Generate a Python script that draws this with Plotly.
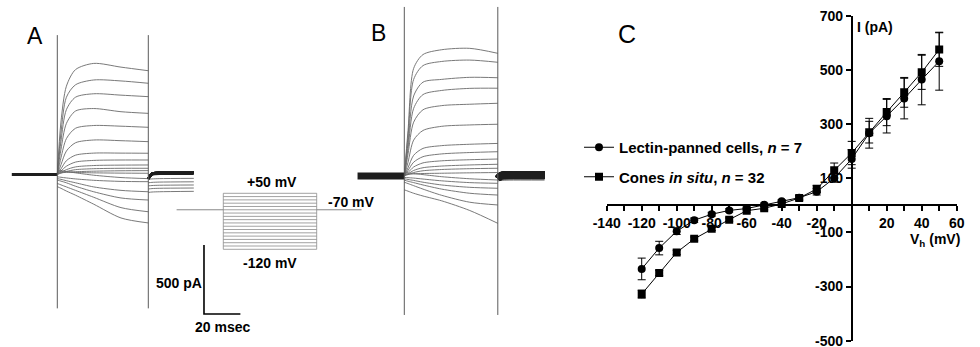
import plotly.graph_objects as go

W, H = 980, 347
FONT = "Liberation Sans, Arial, sans-serif"

# ---------------- Panel C : I-V relationship ----------------
VH_MV = [-120, -110, -100, -90, -80, -70, -60, -50, -40, -30, -20, -10, 0, 10, 20, 30, 40, 50]
LECTIN_I = [-235, -158, -96, -55, -33, -19, -12, 2, 15, 28, 50, 100, 171, 266, 329, 394, 464, 532]
LECTIN_SEM = [40, 25, 12, 8, 7, 6, 6, 6, 6, 8, 12, 15, 34, 55, 62, 75, 93, 107]
CONES_I = [-328, -250, -174, -124, -87, -53, -20, -11, 5, 27, 60, 129, 193, 270, 344, 417, 491, 575]
CONES_SEM = [15, 10, 8, 7, 6, 6, 6, 6, 6, 8, 14, 27, 43, 40, 50, 55, 63, 62]
LECTIN_NAME = "<b>Lectin-panned cells, <i>n</i> = 7</b>"
CONES_NAME = "<b>Cones <i>in situ</i>, <i>n</i> = 32</b>"

X_TICKS = [-140, -120, -100, -80, -60, -40, -20, 20, 40, 60]
X_TICK_TEXT = ["-140", "-120", "-100", "-80", "-60", "-40", "-20", "20", "40", "60"]
X_MINOR_DTICK = 10
Y_TICKS = [700, 500, 300, 100, -100, -300, -500]
Y_TICK_TEXT = ["700", "500", "300", "100", "-100", "-300", "-500"]
X_RANGE = [-140, 60]
Y_RANGE = [-500, 700]

# ---------------- Panels A and B : current traces (pA vs ms) ----------------
STEP_MV = [50, 40, 30, 20, 10, 0, -10, -20, -30, -40, -50, -60, -70, -80, -90, -100, -110, -120]
PRE_T_MS = [-25, 0]
PULSE_T_MS = [0, 2, 5, 10, 20, 35, 50]
TAIL_T_MS = [50, 52, 56, 75]
PULSE_EDGES_MS = [0, 50]

A_PULSE_PA = [
    [0, 380, 640, 760, 805, 778, 752],
    [0, 300, 560, 650, 685, 678, 661],
    [0, 240, 470, 560, 585, 575, 564],
    [0, 180, 370, 460, 478, 455, 443],
    [0, 120, 260, 335, 355, 350, 342],
    [0, 70, 170, 230, 250, 245, 238],
    [0, 40, 100, 140, 155, 155, 154],
    [0, 25, 60, 90, 102, 105, 105],
    [0, 15, 35, 55, 65, 68, 69],
    [0, 10, 22, 35, 42, 45, 45],
    [10, 12, 16, 20, 24, 27, 28],
    [20, 20, 18, 15, 12, 10, 9],
    [30, 28, 22, 12, -5, -22, -30],
    [-17, -20, -25, -32, -42, -50, -52],
    [-30, -35, -45, -60, -90, -115, -125],
    [-40, -48, -60, -85, -125, -170, -185],
    [-65, -75, -90, -115, -165, -240, -270],
    [-88, -100, -120, -150, -215, -315, -351],
]
A_TAIL_PA = [
    [-30, 5, 12, 12], [-30, 5, 12, 12], [-30, 5, 12, 12], [-30, 5, 12, 12],
    [-30, 5, 12, 12], [-30, 5, 12, 12], [-30, 5, 12, 12], [-30, 5, 12, 12],
    [-30, 5, 12, 12], [-30, 5, 12, 12], [-30, 5, 12, 12], [-30, 5, 12, 12],
    [-10, 0, 5, 5],
    [-35, -32, -30, -28],
    [-60, -57, -55, -53],
    [-82, -80, -78, -76],
    [-105, -102, -100, -98],
    [-130, -127, -125, -122],
]
A_TRANSIENT_PA = [1010, -970]

B_PULSE_PA = [
    [0, 330, 780, 880, 915, 925, 889],
    [0, 290, 700, 800, 830, 840, 824],
    [0, 240, 580, 680, 700, 715, 712],
    [0, 200, 490, 590, 620, 635, 636],
    [0, 160, 390, 480, 510, 520, 527],
    [0, 100, 260, 330, 360, 370, 375],
    [0, 60, 150, 200, 220, 230, 236],
    [0, 40, 100, 140, 160, 170, 176],
    [0, 25, 65, 95, 110, 118, 123],
    [0, 15, 40, 60, 72, 80, 85],
    [5, 10, 25, 38, 47, 53, 56],
    [10, 12, 15, 18, 20, 23, 25],
    [25, 22, 18, 10, -5, -20, -29],
    [-10, -12, -15, -22, -35, -48, -53],
    [-20, -25, -32, -45, -65, -82, -89],
    [-30, -38, -48, -65, -95, -125, -138],
    [-45, -55, -70, -95, -140, -190, -210],
    [-100, -110, -125, -145, -180, -250, -343],
]
B_TAIL_PA = [
    [-20, 5, 8, 8], [-20, 5, 8, 8], [-20, 5, 8, 8], [-20, 5, 8, 8],
    [-20, 5, 8, 8], [-20, 5, 8, 8], [-20, 5, 8, 8], [-20, 5, 8, 8],
    [-20, 5, 8, 8], [-20, 5, 8, 8], [-20, 5, 8, 8], [-20, 5, 8, 8],
    [-5, 0, 2, 2],
    [-10, -8, -6, -6],
    [-15, -13, -12, -12],
    [-22, -20, -18, -18],
    [-28, -26, -24, -24],
    [-35, -32, -30, -30],
]
B_TRANSIENT_PA = [1225, -1007]

# scale bar (applies to A): 20 ms x 500 pA
SCALE_T_MS = 20
SCALE_I_PA = 500
SCALE_ORIGIN = (80.6, -1011)   # (ms, pA) in panel-A units

# ---------------- Voltage protocol (schematic) ----------------
PROTOCOL_LEVELS_MV = [50, 40, 30, 20, 10, 0, -10, -20, -30, -40, -50, -60, -70, -80, -90, -100, -110, -120]
PROTOCOL_T_MS = [0, 50]
HOLD_T_MS = [-25, 0, 50, 74]
HOLD_LINE_SCHEMATIC = 0  # where the holding line is drawn in the schematic


def xr(lo_px, hi_px, ref_px, ref_val, ppu):
    return [ref_val + (lo_px - ref_px) / ppu, ref_val + (hi_px - ref_px) / ppu]


def yr(top_px, bot_px, ref_px, ref_val, ppu):
    return [ref_val - (bot_px - ref_px) / ppu, ref_val - (top_px - ref_px) / ppu]


def px(x):
    return x / W


def py(y):
    return 1 - y / H


fig = go.Figure()

TRACE_COL = "#6a6a6a"
DARK = "#1e1e1e"


def add_panel(xa, ya, pulses, tails, transient, base_w, tail_band_w):
    xs, ys = [], []
    for sweep in pulses:
        xs += PULSE_T_MS + [None]
        ys += sweep + [None]
    fig.add_trace(go.Scatter(x=xs, y=ys, mode="lines", xaxis=xa, yaxis=ya,
                             line=dict(color=TRACE_COL, width=0.9, shape="spline", smoothing=0.8),
                             showlegend=False, hoverinfo="skip"))
    xs, ys, xb, yb = [], [], [], []
    for v, tail in zip(STEP_MV, tails):
        if v >= -70:
            xb += TAIL_T_MS + [None]
            yb += tail + [None]
        else:
            xs += TAIL_T_MS + [None]
            ys += tail + [None]
    fig.add_trace(go.Scatter(x=xs, y=ys, mode="lines", xaxis=xa, yaxis=ya,
                             line=dict(color=TRACE_COL, width=0.9, shape="spline", smoothing=0.8),
                             showlegend=False, hoverinfo="skip"))
    fig.add_trace(go.Scatter(x=xb, y=yb, mode="lines", xaxis=xa, yaxis=ya,
                             line=dict(color=DARK, width=tail_band_w, shape="spline", smoothing=0.8),
                             showlegend=False, hoverinfo="skip"))
    fig.add_trace(go.Scatter(x=PRE_T_MS, y=[0, 0], mode="lines", xaxis=xa, yaxis=ya,
                             line=dict(color=DARK, width=base_w),
                             showlegend=False, hoverinfo="skip"))
    for t in PULSE_EDGES_MS:
        fig.add_trace(go.Scatter(x=[t, t], y=transient, mode="lines", xaxis=xa, yaxis=ya,
                                 line=dict(color="#5a5a5a", width=1),
                                 showlegend=False, hoverinfo="skip"))


add_panel("x2", "y2", A_PULSE_PA, A_TAIL_PA, A_TRANSIENT_PA, 3, 2.5)
add_panel("x3", "y3", B_PULSE_PA, B_TAIL_PA, B_TRANSIENT_PA, 7, 7)

sx, sy = SCALE_ORIGIN
fig.add_trace(go.Scatter(x=[sx, sx, sx + SCALE_T_MS], y=[sy + SCALE_I_PA, sy, sy], mode="lines",
                         xaxis="x2", yaxis="y2", line=dict(color="black", width=1.6),
                         showlegend=False, hoverinfo="skip"))

xs, ys = [], []
for lv in PROTOCOL_LEVELS_MV:
    xs += PROTOCOL_T_MS + [None]
    ys += [lv, lv, None]
fig.add_trace(go.Scatter(x=xs, y=ys, mode="lines", xaxis="x4", yaxis="y4",
                         line=dict(color="#8a8a8a", width=0.8), showlegend=False, hoverinfo="skip"))
for t in PROTOCOL_T_MS:
    fig.add_trace(go.Scatter(x=[t, t], y=[max(PROTOCOL_LEVELS_MV), min(PROTOCOL_LEVELS_MV)], mode="lines",
                             xaxis="x4", yaxis="y4", line=dict(color="#8a8a8a", width=0.8),
                             showlegend=False, hoverinfo="skip"))
fig.add_trace(go.Scatter(x=HOLD_T_MS[:2] + [None] + HOLD_T_MS[2:],
                         y=[HOLD_LINE_SCHEMATIC] * 2 + [None] + [HOLD_LINE_SCHEMATIC] * 2,
                         mode="lines", xaxis="x4", yaxis="y4",
                         line=dict(color="#7a7a7a", width=0.9), showlegend=False, hoverinfo="skip"))

fig.add_trace(go.Scatter(x=VH_MV, y=LECTIN_I, name=LECTIN_NAME, mode="lines+markers",
                         line=dict(color="black", width=1),
                         marker=dict(symbol="circle", size=8, color="black"),
                         error_y=dict(type="data", array=LECTIN_SEM, color="black", thickness=1, width=4),
                         legendgroup="a", hoverinfo="skip"))
fig.add_trace(go.Scatter(x=VH_MV, y=CONES_I, name=CONES_NAME, mode="lines+markers",
                         line=dict(color="black", width=1),
                         marker=dict(symbol="square", size=8, color="black"),
                         error_y=dict(type="data", array=CONES_SEM, color="black", thickness=1, width=4),
                         legendgroup="b", hoverinfo="skip"))

C_X_PX = (606.7, 956.7)
C_Y_PX = (15.7, 340.7)
xdom = [px(C_X_PX[0]), px(C_X_PX[1])]
ydom = [py(C_Y_PX[1]), py(C_Y_PX[0])]
ypos_for_xaxis = ydom[0] + (0 - Y_RANGE[0]) / (Y_RANGE[1] - Y_RANGE[0]) * (ydom[1] - ydom[0])
xpos_for_yaxis = xdom[0] + (0 - X_RANGE[0]) / (X_RANGE[1] - X_RANGE[0]) * (xdom[1] - xdom[0])

tickfont = dict(family=FONT, size=14, color="black", weight="bold")
hidden = dict(visible=False, fixedrange=True, showgrid=False, zeroline=False)

layout = dict(
    width=W, height=H, autosize=False,
    margin=dict(l=0, r=0, t=0, b=0, pad=0, autoexpand=False),
    paper_bgcolor="white", plot_bgcolor="rgba(0,0,0,0)",
    font=dict(family=FONT, color="black"),
    xaxis=dict(domain=xdom, range=X_RANGE, anchor="free", position=ypos_for_xaxis,
               showline=True, linecolor="black", linewidth=1.8, ticks="outside", ticklen=5,
               tickwidth=1.5, tickcolor="black", tickvals=X_TICKS, ticktext=X_TICK_TEXT,
               minor=dict(dtick=X_MINOR_DTICK, tick0=0, ticks="outside", ticklen=5, tickwidth=1.5,
                          tickcolor="black", showgrid=False),
               tickfont=tickfont, showgrid=False, zeroline=False, fixedrange=True, automargin=False,
               ticklabeloverflow="allow"),
    yaxis=dict(domain=ydom, range=Y_RANGE, anchor="free", position=xpos_for_yaxis,
               showline=True, linecolor="black", linewidth=1.8, ticks="outside", ticklen=5,
               tickwidth=1.5, tickcolor="black", tickvals=Y_TICKS, ticktext=Y_TICK_TEXT,
               tickfont=tickfont, showgrid=False, zeroline=False, fixedrange=True, automargin=False,
               ticklabeloverflow="allow"),
    xaxis2=dict(domain=[px(0), px(353)], range=xr(0, 353, 57.3, 0, 1.82), anchor="y2", **hidden),
    yaxis2=dict(domain=[0, 1], range=yr(0, H, 174.5, 0, 0.138), anchor="x2", **hidden),
    xaxis3=dict(domain=[px(330), px(560)], range=xr(330, 560, 404.3, 0, 1.87), anchor="y3", **hidden),
    yaxis3=dict(domain=[0, 1], range=yr(0, H, 176, 0, 0.138), anchor="x3", **hidden),
    xaxis4=dict(domain=[px(170), px(370)], range=xr(170, 370, 223.3, 0, 1.868), anchor="y4", **hidden),
    yaxis4=dict(domain=[0, 1], range=yr(0, H, 193.3, 50, 0.3294), anchor="x4", **hidden),
    legend=dict(x=px(579), xanchor="left", y=py(131), yanchor="top", bgcolor="rgba(0,0,0,0)",
                font=dict(family=FONT, size=15, color="black"), tracegroupgap=7, itemwidth=30),
    showlegend=True,
)
fig.update_layout(**layout)


def label(text, x, y, size=14, xanchor="center", bold=True):
    fig.add_annotation(text=f"<b>{text}</b>" if bold else text, x=px(x), y=py(y),
                       xref="paper", yref="paper", xanchor=xanchor, yanchor="middle",
                       showarrow=False, font=dict(family=FONT, size=size, color="black"))


label("A", 35, 36, size=23, bold=False)
label("B", 378, 33, size=23, bold=False)
label("C", 627, 34, size=25, bold=False)
label("+50 mV", 272, 182)
label("-120 mV", 270, 263)
label("-70 mV", 351, 202)
label("500 pA", 204, 283, xanchor="right")
label("20 msec", 222, 327)
label("I (pA)", 855, 27, xanchor="left")
label("V<sub>h</sub> (mV)", 962, 240, xanchor="right")

fig.write_html("out.html", config={"displayModeBar": False},
               post_script="document.body.style.margin='0';document.body.style.overflow='hidden';")
